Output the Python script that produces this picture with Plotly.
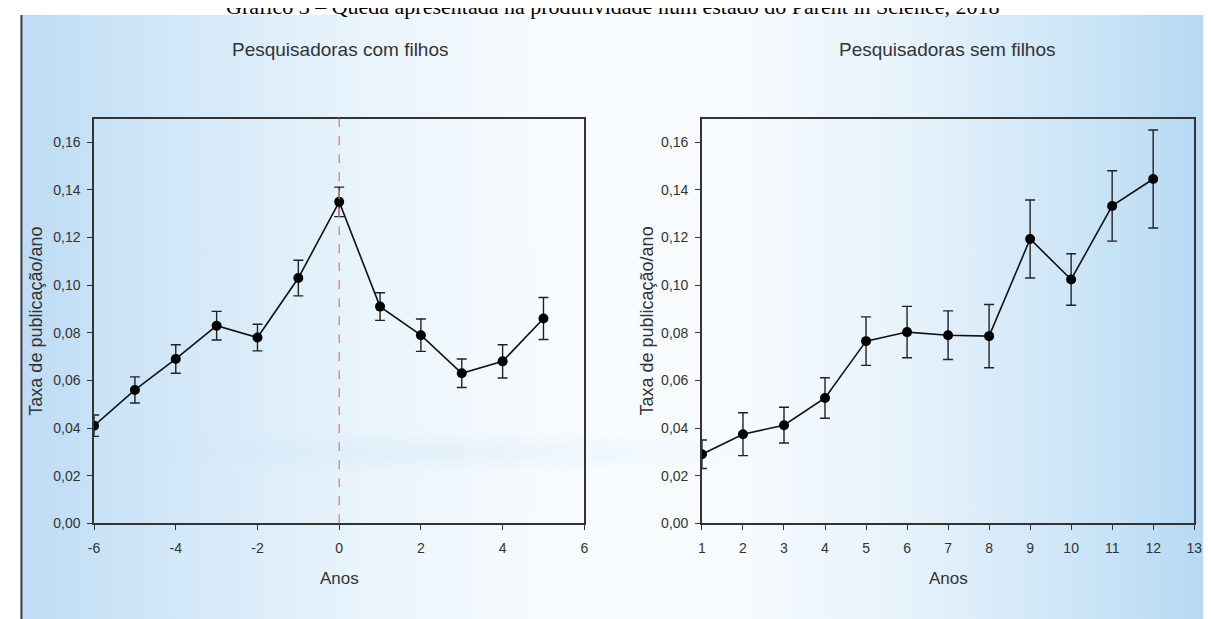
import base64
import plotly.graph_objects as go

# ---------------- data ----------------
left_years = [-6, -5, -4, -3, -2, -1, 0, 1, 2, 3, 4, 5]
left_rate = [0.041, 0.056, 0.069, 0.083, 0.078, 0.103, 0.135, 0.091, 0.079, 0.063, 0.068, 0.086]
left_err = [0.0045, 0.0055, 0.006, 0.006, 0.0056, 0.0075, 0.0062, 0.0058, 0.0068, 0.006, 0.007, 0.0088]

right_years = [1, 2, 3, 4, 5, 6, 7, 8, 9, 10, 11, 12]
right_rate = [0.029, 0.0374, 0.0412, 0.0526, 0.0765, 0.0803, 0.079, 0.0786, 0.1194, 0.1024, 0.1333, 0.1446]
right_err = [0.006, 0.009, 0.0075, 0.0085, 0.0102, 0.0108, 0.0102, 0.0133, 0.0164, 0.0108, 0.0148, 0.0206]

left_tickvals = [-6, -4, -2, 0, 2, 4, 6]
left_ticktext = ["-6", "-4", "-2", "0", "2", "4", "6"]
right_tickvals = [1, 2, 3, 4, 5, 6, 7, 8, 9, 10, 11, 12, 13]

main_title = "Gráfico 3 – Queda apresentada na produtividade num estado do Parent in Science, 2018"
left_title = "Pesquisadoras com filhos"
right_title = "Pesquisadoras sem filhos"
y_title = "Taxa de publicação/ano"
x_title = "Anos"

W, H = 1211, 619


def px(x):
    return x / W


def py(y):
    return 1 - y / H


# background gradient (slide look)
svg = """<svg xmlns='http://www.w3.org/2000/svg' width='1203' height='612' viewBox='0 0 1203 612' preserveAspectRatio='none'>
<defs>
<linearGradient id='h' x1='0' y1='0' x2='1' y2='0'>
<stop offset='0' stop-color='#bedcf4'/>
<stop offset='0.12' stop-color='#d1e7f8'/>
<stop offset='0.3' stop-color='#ebf5fc'/>
<stop offset='0.45' stop-color='#f8fbfe'/>
<stop offset='0.6' stop-color='#f7fbfe'/>
<stop offset='0.75' stop-color='#e6f2fb'/>
<stop offset='0.9' stop-color='#cae4f7'/>
<stop offset='1' stop-color='#b4d8f4'/>
</linearGradient>
<radialGradient id='s' cx='0.5' cy='0.5' r='0.5'>
<stop offset='0' stop-color='#cbe4f6' stop-opacity='0.35'/>
<stop offset='1' stop-color='#cbe4f6' stop-opacity='0'/>
</radialGradient>
</defs>
<rect x='0' y='0' width='1203' height='612' fill='url(#h)'/>
<ellipse cx='400' cy='443' rx='380' ry='22' fill='url(#s)'/>
</svg>"""
src = "data:image/svg+xml;base64," + base64.b64encode(svg.encode()).decode()

fig = go.Figure()

line_col = "#111111"
fig.add_trace(go.Scatter(
    x=left_years, y=left_rate, mode="lines+markers",
    line=dict(color=line_col, width=1.6),
    marker=dict(color="#000000", size=10),
    error_y=dict(type="data", array=left_err, visible=True, color="#222222", thickness=1.4, width=5),
    xaxis="x", yaxis="y", showlegend=False,
))
fig.add_trace(go.Scatter(
    x=right_years, y=right_rate, mode="lines+markers",
    line=dict(color=line_col, width=1.6),
    marker=dict(color="#000000", size=10),
    error_y=dict(type="data", array=right_err, visible=True, color="#222222", thickness=1.4, width=5),
    xaxis="x2", yaxis="y2", showlegend=False,
))

tickfont = dict(family="Liberation Sans, Arial, sans-serif", size=14, color="#333333")
common_x = dict(showline=True, linecolor="#333333", linewidth=1.6, mirror=True,
                ticks="outside", ticklen=5, tickwidth=1.4, tickcolor="#333333",
                showgrid=False, zeroline=False, tickfont=tickfont, ticklabelstandoff=6)
common_y = dict(showline=True, linecolor="#333333", linewidth=1.6, mirror=True,
                ticks="outside", ticklen=5, tickwidth=1.4, tickcolor="#333333",
                showgrid=False, zeroline=False, tickfont=tickfont, tickformat=".2f",
                range=[0, 0.17], tick0=0, dtick=0.02, ticklabelstandoff=4)

fig.update_layout(
    width=W, height=H,
    margin=dict(l=0, r=0, t=0, b=0),
    paper_bgcolor="#ffffff", plot_bgcolor="rgba(0,0,0,0)",
    separators=",.",
    xaxis=dict(domain=[px(81), px(577)], range=[-6, 6], tickmode="array",
               tickvals=left_tickvals, ticktext=left_ticktext, anchor="y", **common_x),
    yaxis=dict(domain=[py(522), py(112)], anchor="x", **common_y),
    xaxis2=dict(domain=[px(696), px(1194)], range=[1, 13], tickmode="array",
                tickvals=right_tickvals, anchor="y2", **common_x),
    yaxis2=dict(domain=[py(522), py(112)], anchor="x2", **common_y),
    images=[dict(source=src, xref="paper", yref="paper", x=px(8), y=py(7),
                 sizex=1 - px(8), sizey=py(7), xanchor="left", yanchor="top",
                 sizing="stretch", layer="below")],
    shapes=[
        dict(type="line", xref="paper", yref="paper", x0=px(7.5), x1=px(7.5), y0=0, y1=py(7),
             line=dict(color="#34424f", width=2)),
        dict(type="line", xref="x", yref="y domain", x0=0, x1=0, y0=0, y1=1,
             line=dict(color="#e07a7a", width=1.3, dash="dash")),
    ],
)

lab_font = dict(family="Liberation Sans, Arial, sans-serif", color="#333333")
annots = [
    dict(text=main_title, x=px(606), y=py(-2), xanchor="center", yanchor="middle",
         font=dict(family="Liberation Serif, Times New Roman, serif", size=22, color="#000000")),
    dict(text=left_title, x=px(330), y=py(42), xanchor="center", yanchor="middle",
         font=dict(size=19, **lab_font)),
    dict(text=right_title, x=px(944), y=py(42), xanchor="center", yanchor="middle",
         font=dict(size=19, **lab_font)),
    dict(text=y_title, x=px(22), y=py(317), textangle=-90, xanchor="center", yanchor="middle",
         font=dict(size=18, **lab_font)),
    dict(text=y_title, x=px(640), y=py(317), textangle=-90, xanchor="center", yanchor="middle",
         font=dict(size=18, **lab_font)),
    dict(text=x_title, x=px(329), y=py(578), xanchor="center", yanchor="middle",
         font=dict(size=17, **lab_font)),
    dict(text=x_title, x=px(945), y=py(578), xanchor="center", yanchor="middle",
         font=dict(size=17, **lab_font)),
]
for a in annots:
    a.update(xref="paper", yref="paper", showarrow=False)
fig.update_layout(annotations=annots)

fig.write_html("out.html")
